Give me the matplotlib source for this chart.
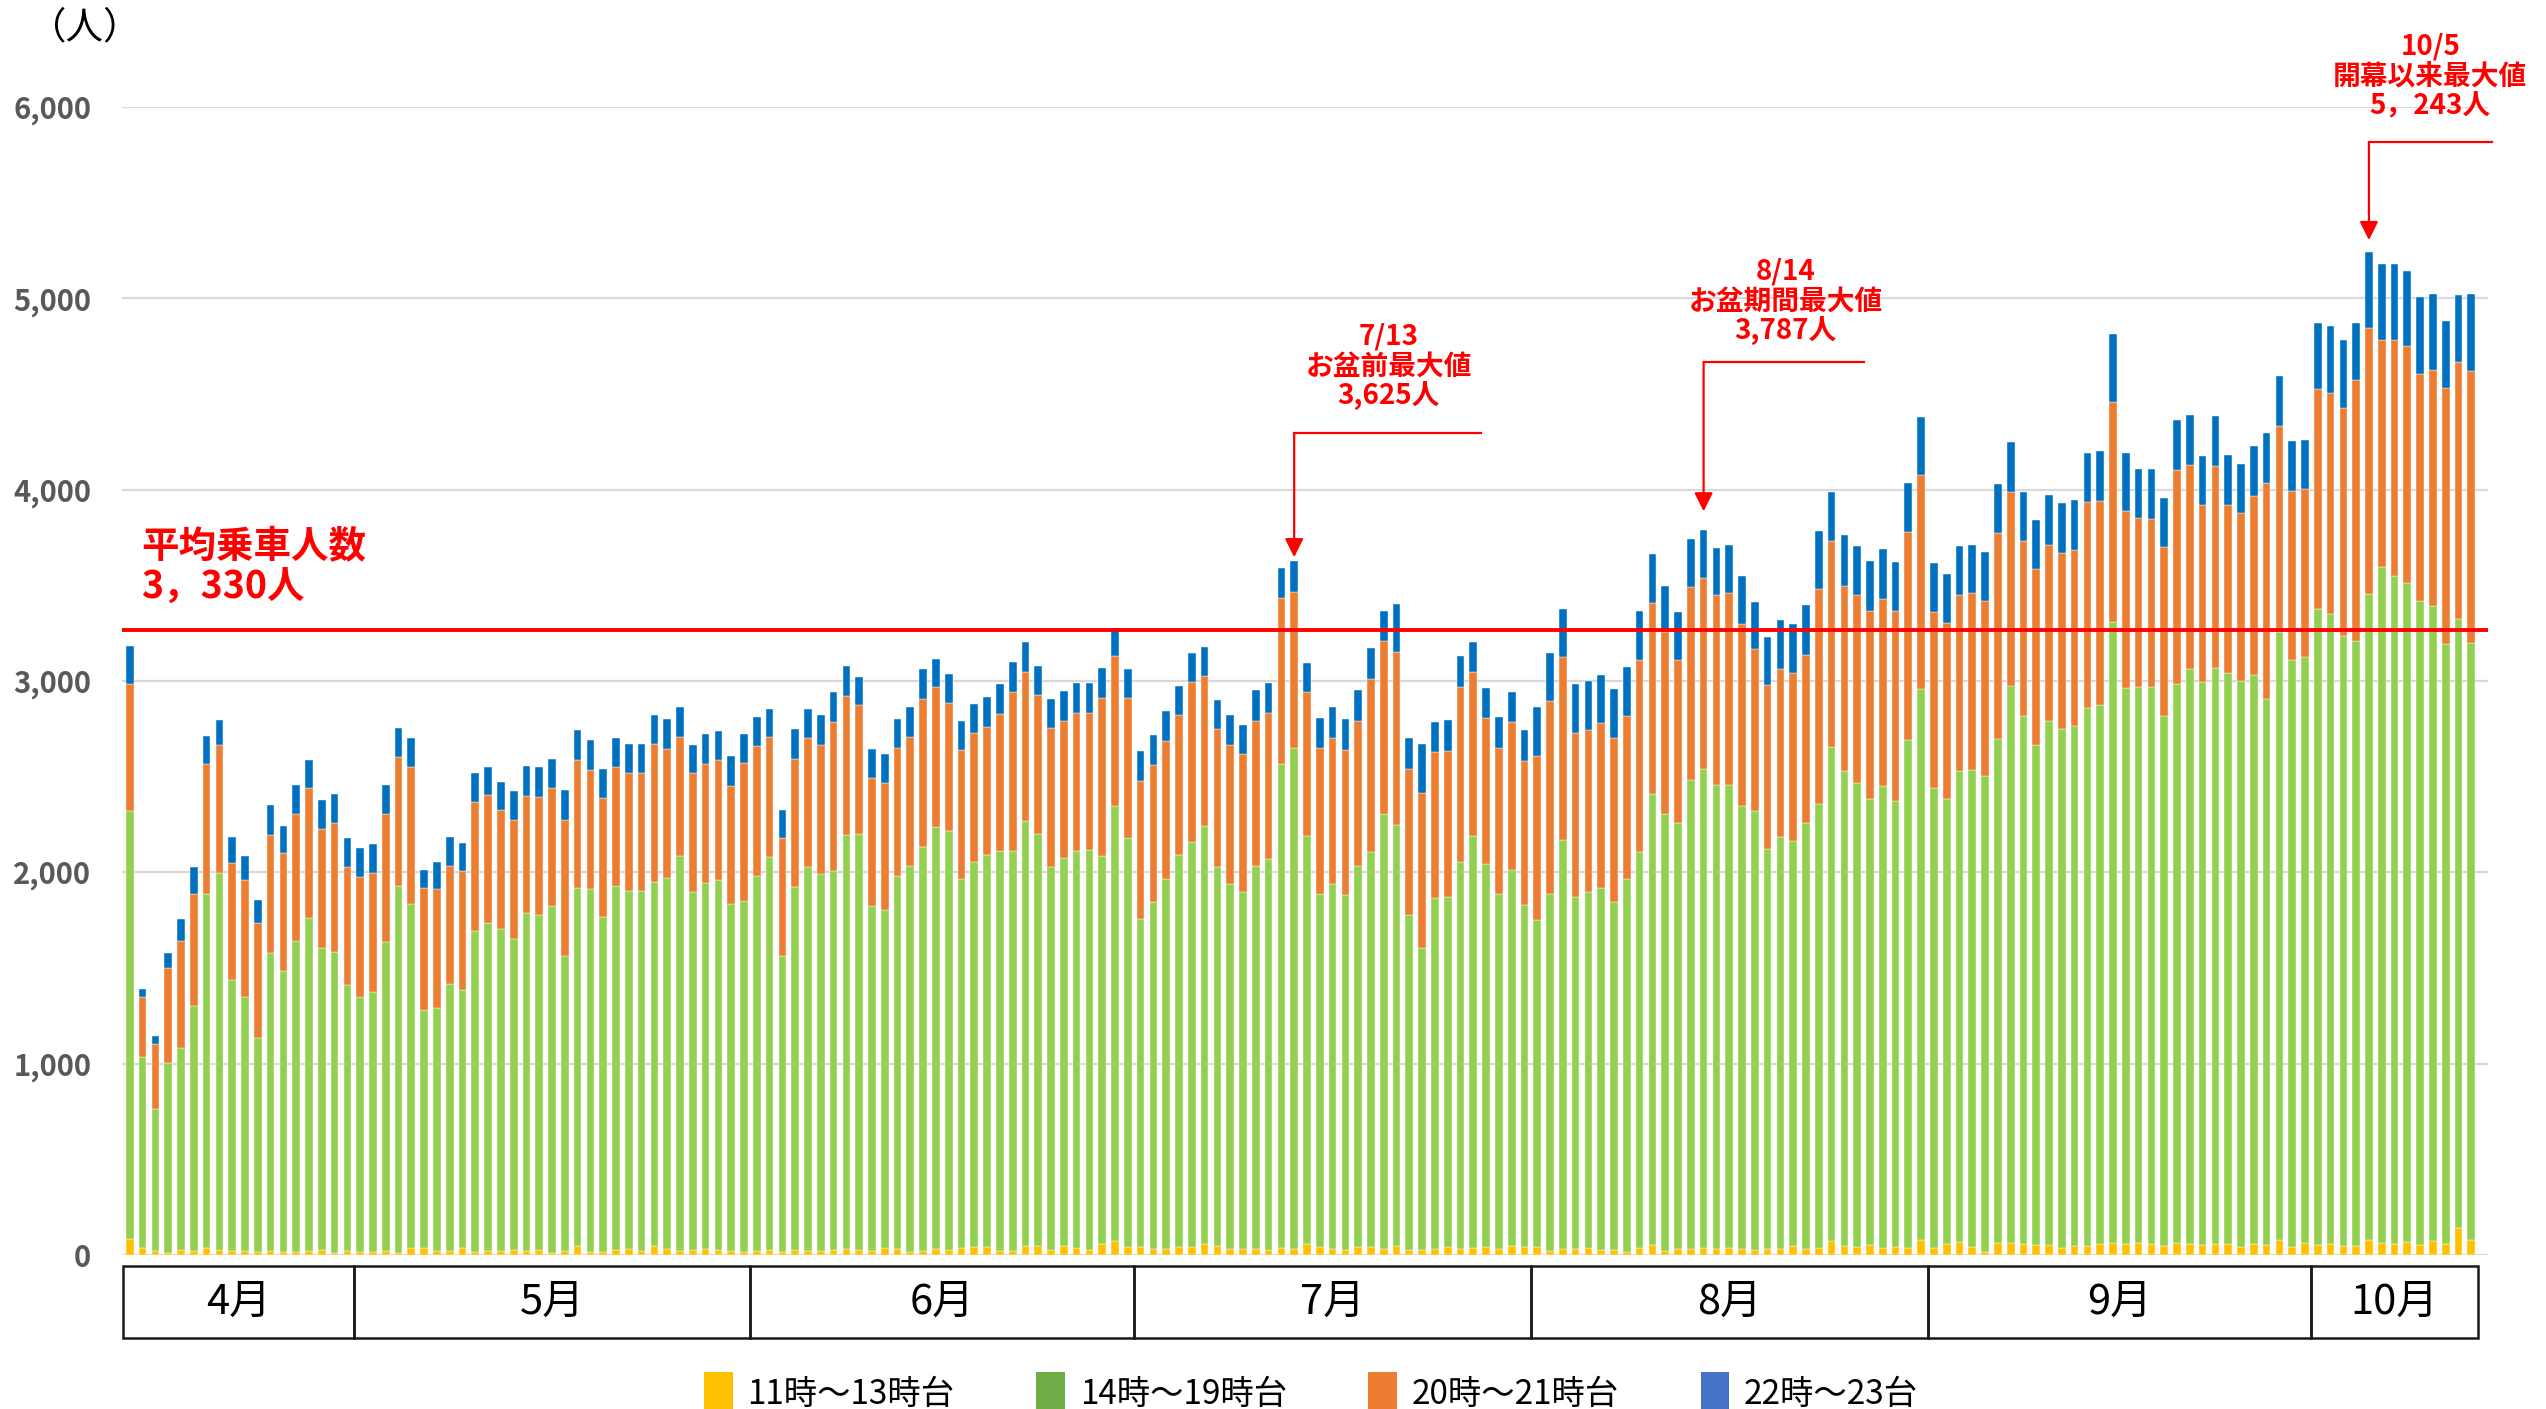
import numpy as np
import matplotlib.pyplot as plt
import matplotlib.transforms as mtransforms
from matplotlib.patches import Patch, Rectangle

plt.rcParams['font.family'] = ['Noto Sans CJK JP', 'DejaVu Sans']

# ---- data (one bar per day 4/13 - 10/13) ----
months = ['4月', '5月', '6月', '7月', '8月', '9月', '10月']
days_in_month = [18, 31, 30, 31, 31, 30, 13]

series_labels = ['11時～13時台', '14時～19時台', '20時～21時台', '22時～23台']

h11_13 = [85, 38, 18, 11, 27, 18, 38, 27, 18, 22, 15, 18, 15, 15, 18, 27, 8, 18,
          15, 15, 22, 11, 38, 38, 22, 22, 38, 15, 22, 18, 27, 20, 27, 11, 18, 45,
          15, 15, 27, 30, 18, 47, 30, 18, 27, 30, 27, 20, 15,
          20, 25, 15, 25, 18, 22, 25, 30, 25, 18, 35, 30, 15, 22, 30, 25, 35, 40,
          40, 18, 20, 45, 45, 25, 45, 35, 25, 54, 74, 40,
          40, 30, 30, 40, 40, 55, 45, 30, 30, 30, 25, 38, 30, 57, 40, 30, 25, 40,
          40, 30, 45, 25, 25, 30, 40, 30, 38, 40, 30, 45, 40,
          40, 22, 30, 30, 35, 25, 25, 15, 35, 50, 20, 30, 30, 35, 30, 35, 30, 25,
          30, 30, 45, 30, 35, 70, 45, 40, 50, 35, 40, 35, 75,
          35, 55, 65, 40, 15, 60, 60, 55, 50, 50, 35, 45, 45, 55, 60, 55, 60, 55,
          45, 60, 55, 50, 55, 55, 40, 55, 50, 75, 40, 60,
          50, 55, 45, 45, 75, 60, 55, 65, 50, 70, 55, 140, 75]

h14_19 = [2233, 996, 743, 991, 1056, 1284, 1850, 1971, 1418, 1325, 1119, 1559,
          1470, 1623, 1745, 1577, 1576, 1391,
          1332, 1361, 1611, 1915, 1794, 1242, 1267, 1392, 1345, 1676, 1714, 1684,
          1626, 1767, 1747, 1810, 1544, 1870, 1898, 1752, 1899, 1872, 1886, 1902,
          1941, 2069, 1868, 1916, 1935, 1812, 1837,
          1958, 2056, 1549, 1897, 2009, 1971, 1984, 2165, 2176, 1808, 1766, 1952,
          2019, 2112, 2209, 2188, 1931, 2014, 2052, 2094, 2092, 2223, 2156, 2002,
          2027, 2076, 2089, 2030, 2274, 2138,
          1716, 1814, 1933, 2051, 2120, 2185, 1982, 1911, 1869, 2002, 2044, 2527,
          2619, 2131, 1846, 1908, 1856, 1992, 2064, 2276, 2204, 1753, 1580, 1833,
          1831, 2025, 2151, 2004, 1855, 1969, 1790,
          1711, 1866, 2140, 1841, 1861, 1893, 1822, 1952, 2072, 2361, 2287, 2230,
          2452, 2507, 2426, 2421, 2316, 2295, 2093, 2154, 2120, 2229, 2321, 2584,
          2482, 2426, 2332, 2415, 2335, 2658, 2883,
          2405, 2327, 2462, 2497, 2490, 2639, 2914, 2764, 2617, 2740, 2716, 2719,
          2816, 2819, 3247, 2909, 2911, 2913, 2771, 2924, 3010, 2944, 3013, 2987,
          2960, 2977, 2856, 3181, 3070, 3063,
          3325, 3295, 3188, 3163, 3378, 3537, 3492, 3448, 3369, 3320, 3136, 3186,
          3124]

h20_21 = [664, 313, 340, 497, 559, 584, 676, 666, 613, 615, 602, 620, 618, 664,
          675, 620, 671, 620,
          626, 622, 669, 676, 716, 639, 622, 617, 621, 676, 669, 622, 622, 611,
          620, 617, 713, 673, 619, 622, 622, 615, 615, 720, 673, 620, 622, 622,
          624, 618, 721,
          682, 624, 617, 671, 673, 674, 778, 724, 674, 666, 664, 667, 673, 774,
          727, 673, 674, 673, 669, 716, 832, 781, 725, 725, 720, 724, 721, 827,
          780, 733,
          721, 719, 723, 729, 833, 785, 721, 723, 721, 761, 763, 867, 818, 755,
          761, 763, 759, 761, 908, 903, 904, 764, 811, 764, 762, 912, 860, 761,
          767, 770, 754,
          857, 1005, 953, 858, 846, 860, 857, 849, 1005, 994, 951, 850, 1008, 995,
          991, 1004, 952, 848, 858, 877, 877, 877, 1126, 1077, 971, 981, 984, 980,
          991, 1084, 1120,
          922, 922, 923, 923, 912, 1074, 1016, 912, 919, 922, 919, 922, 1074, 1068,
          1153, 926, 880, 880, 883, 1120, 1064, 925, 1058, 880, 877, 936, 1130,
          1077, 884, 880,
          1149, 1155, 1195, 1364, 1394, 1187, 1233, 1237, 1187, 1237, 1339, 1343,
          1424]

h22_23 = [199, 40, 44, 78, 114, 143, 150, 132, 137, 123, 121, 152, 141, 154,
          150, 152, 152, 152,
          152, 150, 154, 150, 154, 94, 140, 155, 148, 152, 143, 150, 150, 157,
          154, 155, 157, 155, 157, 150, 154, 154, 154, 152, 155, 157, 150, 155,
          152, 156, 152,
          154, 150, 146, 154, 152, 154, 155, 159, 145, 152, 152, 150, 157, 157,
          150, 152, 152, 152, 156, 154, 154, 157, 152, 152, 154, 153, 155, 156,
          149, 153,
          155, 153, 156, 153, 153, 153, 153, 156, 150, 158, 158, 158, 158, 153,
          160, 161, 160, 160, 161, 159, 247, 159, 252, 159, 162, 162, 156, 157,
          162, 158, 158,
          255, 255, 252, 255, 258, 252, 252, 255, 255, 258, 238, 252, 252, 250,
          249, 249, 249, 246, 249, 256, 256, 259, 304, 256, 263, 258, 262, 259,
          255, 259, 301,
          256, 256, 256, 252, 259, 259, 259, 259, 255, 259, 262, 259, 259, 259,
          352, 304, 259, 259, 259, 258, 263, 259, 259, 259, 259, 262, 262, 259,
          262, 259,
          350, 350, 352, 301, 396, 398, 398, 394, 402, 398, 351, 348, 398]

avg_text = '平均乗車人数\n3，330人'
avg_level = 3265

peak_idx = [91, 123, 175]
peak_text = ['7/13\nお盆前最大値\n3,625人',
             '8/14\nお盆期間最大値\n3,787人',
             '10/5\n開幕以来最大値\n5，243人']

# ---- figure ----
fig = plt.figure(figsize=(25.46, 14.09), dpi=100)
ax = fig.add_axes([0.04783, 0.10945, 0.92921, 0.81451])

bar_colors = ['#FFC000', '#92D050', '#ED7D31', '#0070C0']
legend_colors = ['#FFC000', '#70AD47', '#ED7D31', '#4472C4']

series = [h11_13, h14_19, h20_21, h22_23]
x = np.arange(len(h11_13))
bottom = np.zeros(len(x))
for vals, col in zip(series, bar_colors):
    vals = np.array(vals)
    ax.bar(x, vals, bottom=bottom, width=0.6, color=col,
           edgecolor='white', linewidth=0.3, zorder=2)
    bottom += vals

ax.set_xlim(-0.63, 184.27)
ax.set_ylim(0, 6000)
ax.set_yticks(range(0, 7000, 1000))
ax.set_yticklabels([f'{v:,}' for v in range(0, 7000, 1000)],
                   fontsize=21, fontweight='bold', color='#595959')
ax.set_xticks([])
ax.tick_params(axis='y', length=0, pad=22)
ax.yaxis.grid(True, color='#D9D9D9', linewidth=1.6)
ax.set_axisbelow(True)
for s in ax.spines.values():
    s.set_visible(False)

# average line
ax.axhline(avg_level, color='#FF0000', linewidth=2.8, zorder=4)
ax.text(0.9, 3595, avg_text, color='#FF0000', fontsize=27, fontweight='bold',
        ha='left', va='center', linespacing=1.05, zorder=5)

# peak annotations
arrow_tip = [3647, 3887, 5305]
hline_y = [4294, 4668, 5818]
hline_end = [105.6, 135.5, 184.6]
text_xy = [(98.4, 4642), (129.4, 4982), (179.8, 6161)]
for i in range(len(peak_idx)):
    px = peak_idx[i]
    ax.plot([px, hline_end[i]], [hline_y[i], hline_y[i]], color='#FF0000',
            lw=1.6, clip_on=False, zorder=5)
    ax.annotate('', xy=(px, arrow_tip[i]), xytext=(px, hline_y[i]),
                arrowprops=dict(arrowstyle='-|>', color='#FF0000', lw=1.6,
                                mutation_scale=28, shrinkA=0, shrinkB=0),
                annotation_clip=False, zorder=5)
    ax.text(text_xy[i][0], text_xy[i][1], peak_text[i], color='#FF0000',
            fontsize=20, fontweight='bold', ha='center', va='center',
            multialignment='center', linespacing=1.08, clip_on=False)

# unit label
fig.text(0.0335, 0.9805, '（人）', fontsize=27, ha='center', va='center',
         color='black')

# month boxes below the axis
trans = mtransforms.blended_transform_factory(ax.transData, ax.transAxes)
start = -0.5
for m, nd in zip(months, days_in_month):
    end = start + nd
    ax.add_patch(Rectangle((start, -0.0722), nd, 0.0623, transform=trans,
                           fill=False, edgecolor='#1A1A1A', linewidth=1.8,
                           clip_on=False))
    ax.text((start + end) / 2, -0.041, m, transform=trans, fontsize=30,
            ha='center', va='center', color='black')
    start = end

# legend
handles = [Patch(facecolor=c, edgecolor='none') for c in legend_colors]
fig.legend(handles, series_labels, loc='center', bbox_to_anchor=(0.515, 0.011),
           ncol=4, frameon=False, fontsize=24, handlelength=0.85,
           handleheight=1.6, handletextpad=0.45, columnspacing=2.45)

fig.savefig('out.png', dpi=100)
